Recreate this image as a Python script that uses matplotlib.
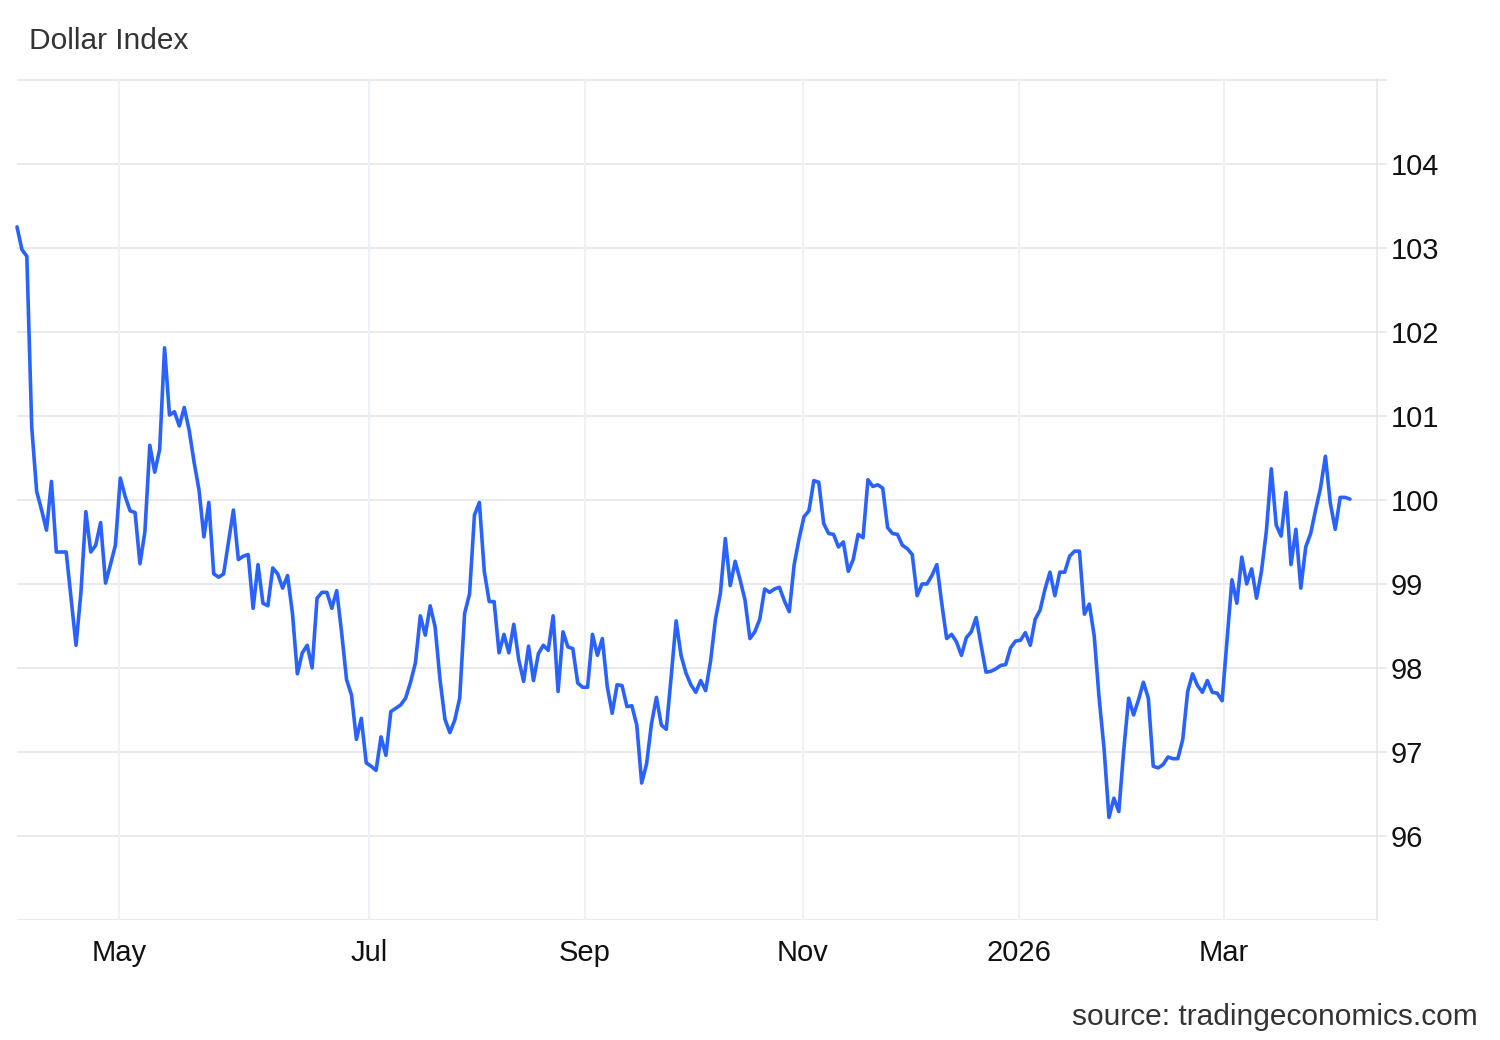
import matplotlib
matplotlib.use("Agg")
import matplotlib.pyplot as plt
from matplotlib.ticker import FixedLocator

# ---- data (ordinal trading points, Apr 2025 -> Mar 2026) ----
values = [
    103.25, 102.98, 102.90, 100.86, 100.10, 99.88, 99.64, 100.22, 99.38, 99.38,
    99.38, 98.83, 98.27, 98.90, 99.86, 99.38, 99.46, 99.73, 99.01, 99.23,
    99.46, 100.26, 100.04, 99.87, 99.85, 99.24, 99.62, 100.65, 100.33, 100.60,
    101.81, 101.01, 101.05, 100.88, 101.10, 100.83, 100.45, 100.12, 99.56, 99.97,
    99.12, 99.08, 99.12, 99.50, 99.88, 99.29, 99.33, 99.35, 98.71, 99.23,
    98.77, 98.74, 99.19, 99.12, 98.95, 99.10, 98.65, 97.93, 98.18, 98.27,
    98.00, 98.83, 98.90, 98.90, 98.71, 98.92, 98.42, 97.86, 97.68, 97.15,
    97.40, 96.87, 96.83, 96.78, 97.18, 96.96, 97.48, 97.52, 97.56, 97.64,
    97.83, 98.06, 98.62, 98.39, 98.74, 98.49, 97.86, 97.39, 97.23, 97.38,
    97.64, 98.65, 98.88, 99.82, 99.97, 99.15, 98.79, 98.79, 98.18, 98.40,
    98.18, 98.52, 98.10, 97.84, 98.26, 97.85, 98.17, 98.27, 98.21, 98.62,
    97.72, 98.43, 98.25, 98.23, 97.82, 97.77, 97.77, 98.40, 98.15, 98.35,
    97.78, 97.46, 97.80, 97.79, 97.54, 97.55, 97.32, 96.63, 96.86, 97.34,
    97.65, 97.32, 97.27, 97.90, 98.56, 98.15, 97.94, 97.80, 97.71, 97.85,
    97.73, 98.08, 98.58, 98.89, 99.54, 98.98, 99.27, 99.05, 98.81, 98.35,
    98.43, 98.58, 98.94, 98.90, 98.94, 98.96, 98.80, 98.67, 99.23, 99.54,
    99.80, 99.87, 100.23, 100.21, 99.72, 99.60, 99.59, 99.44, 99.50, 99.15,
    99.29, 99.59, 99.55, 100.24, 100.16, 100.18, 100.14, 99.67, 99.60, 99.59,
    99.46, 99.42, 99.35, 98.86, 99.00, 99.00, 99.10, 99.23, 98.77, 98.35,
    98.40, 98.31, 98.15, 98.36, 98.43, 98.60, 98.27, 97.95, 97.96, 97.99,
    98.03, 98.04, 98.24, 98.32, 98.33, 98.42, 98.27, 98.58, 98.69, 98.94,
    99.14, 98.86, 99.14, 99.14, 99.33, 99.39, 99.39, 98.64, 98.76, 98.38,
    97.64, 97.04, 96.22, 96.45, 96.29, 97.02, 97.64, 97.44, 97.62, 97.83,
    97.64, 96.83, 96.81, 96.85, 96.94, 96.92, 96.92, 97.15, 97.72, 97.93,
    97.79, 97.71, 97.85, 97.71, 97.70, 97.61, 98.33, 99.05, 98.77, 99.32,
    99.00, 99.18, 98.83, 99.15, 99.63, 100.37, 99.70, 99.57, 100.09, 99.23,
    99.65, 98.95, 99.44, 99.60, 99.88, 100.14, 100.52, 99.96, 99.65, 100.03,
    100.03, 100.01,
]
month_labels = ["May", "Jul", "Sep", "Nov", "2026", "Mar"]
month_pos = [20.7, 71.6, 115.5, 159.8, 203.7, 245.4]
y_ticks = [96, 97, 98, 99, 100, 101, 102, 103, 104, 105]
y_labels = ["96", "97", "98", "99", "100", "101", "102", "103", "104", ""]
grid_y = [95, 96, 97, 98, 99, 100, 101, 102, 103, 104, 105]

title = "Dollar Index"
source = "source: tradingeconomics.com"

# ---- style ----
plt.rcParams["font.family"] = ["Liberation Sans", "DejaVu Sans"]
LINE = "#2962ff"
GRID_H = "#e6e6e6"
GRID_V = "#eef1f5"

fig = plt.figure(figsize=(15, 10.4), dpi=100)
W, H = 1500, 1040
left, right, top, bottom = 17, 1377, 79, 920
ax = fig.add_axes([left / W, 1 - bottom / H, (right - left) / W, (bottom - top) / H])

x = list(range(len(values)))
ax.plot(x, values, color=LINE, lw=2.6, solid_joinstyle="round",
        solid_capstyle="round", zorder=3, clip_on=False)

ax.set_xlim(0, (right - left) / ((1350 - 17) / (len(values) - 1)))
ax.set_ylim(95, 105.01)

for s in ["left", "top", "bottom"]:
    ax.spines[s].set_visible(False)
ax.spines["right"].set_color(GRID_H)
ax.spines["right"].set_linewidth(1.2)

ax.yaxis.tick_right()
ax.yaxis.set_major_locator(FixedLocator(y_ticks))
ax.set_yticklabels(y_labels)
ax.tick_params(axis="y", length=7, width=1.2, color=GRID_H, labelsize=21,
               labelcolor="#111111", pad=3)
ax.xaxis.set_major_locator(FixedLocator(month_pos))
ax.set_xticklabels(month_labels)
ax.tick_params(axis="x", length=0, labelsize=21, labelcolor="#111111", pad=14)

for yv in grid_y:
    ax.axhline(yv, color=GRID_H, lw=1.2, zorder=1)
for xv in month_pos:
    ax.axvline(xv, color=GRID_V, lw=1.4, zorder=1)

fig.text(29 / W, 1 - 41 / H, title, fontsize=21.5, color="#333333", va="center", ha="left")
fig.text(1478 / W, 1 - 1017 / H, source, fontsize=21.5, color="#333333", va="center", ha="right")

fig.savefig("out.png", dpi=100, facecolor="white")
